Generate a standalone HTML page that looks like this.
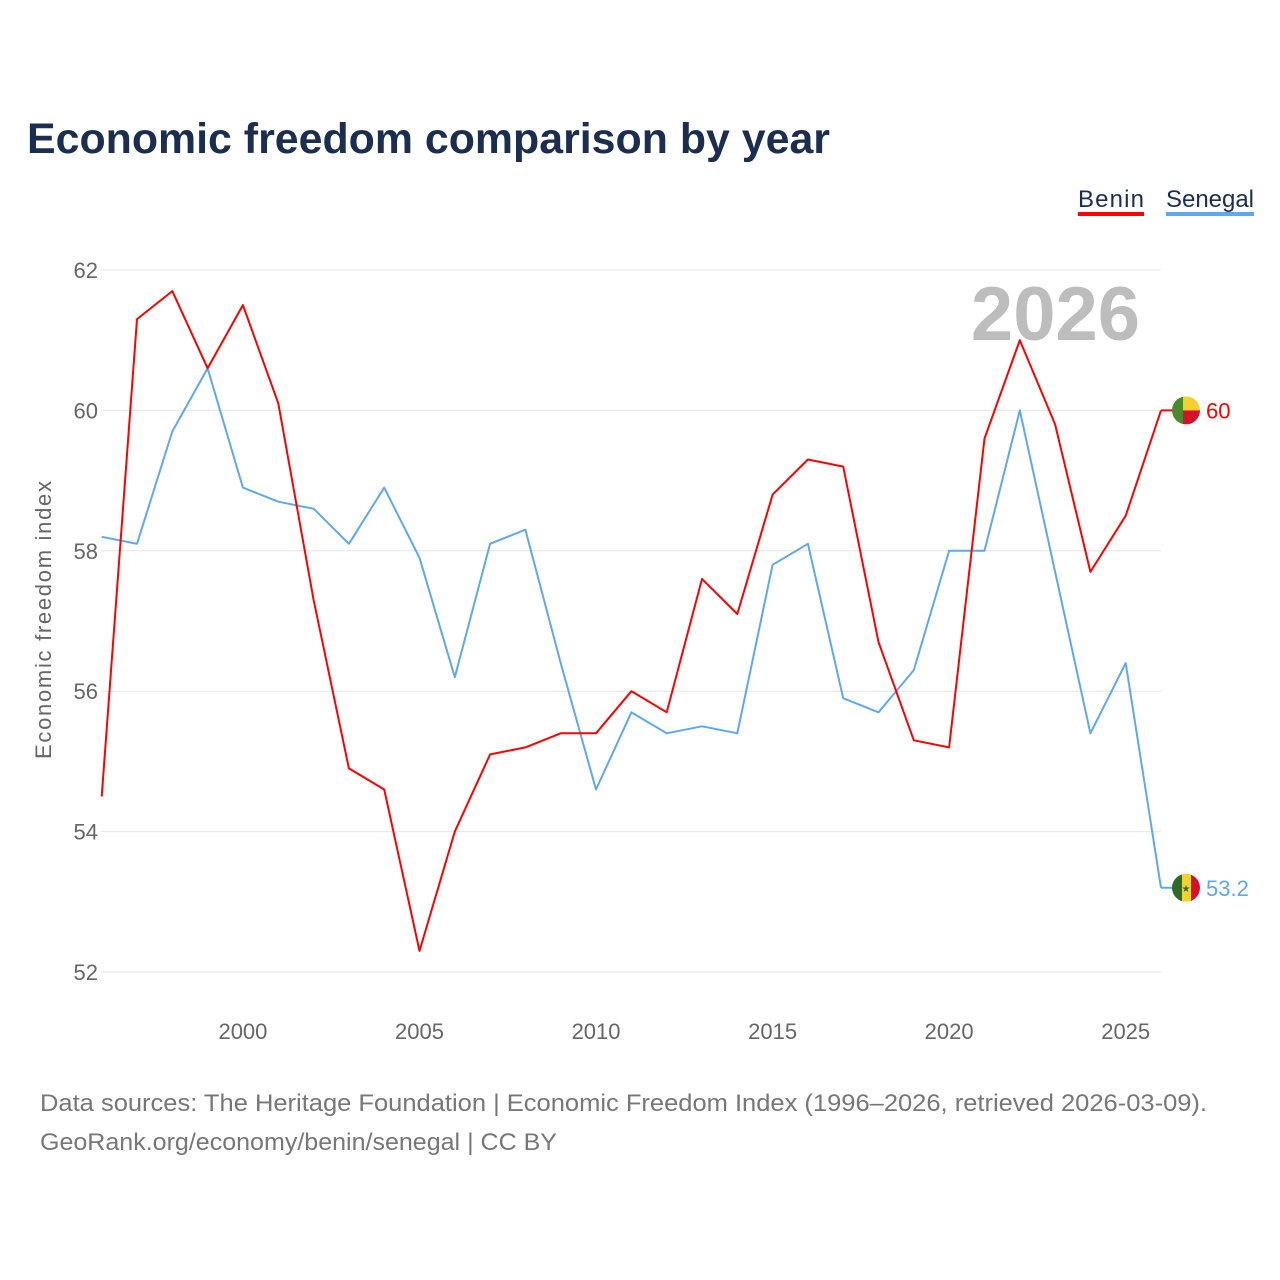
<!DOCTYPE html>
<html><head><meta charset="utf-8">
<style>
body{margin:0;background:#fff;font-family:"Liberation Sans",sans-serif;}
svg{display:block}
</style></head>
<body>
<svg id="chart" width="1280" height="1280" viewBox="0 0 1280 1280">
<defs>
<clipPath id="cb"><circle cx="0" cy="0" r="14"/></clipPath>
</defs>
<text x="27" y="153" font-size="43" font-weight="bold" fill="#1b2e4f" textLength="803" lengthAdjust="spacingAndGlyphs">Economic freedom comparison by year</text>
<g>
<text x="1078" y="207" font-size="24" fill="#1b2e4f" textLength="66">Benin</text>
<rect x="1078" y="212" width="66" height="4" fill="#ff0000"/>
<text x="1166" y="207" font-size="24" fill="#1b2e4f" textLength="88">Senegal</text>
<rect x="1166" y="212" width="88" height="4" fill="#5ea8ec"/>
</g>
<text x="1140" y="340" font-size="76" font-weight="bold" fill="#bdbdbd" text-anchor="end">2026</text>
<text transform="translate(51,620) rotate(-90)" font-size="22" fill="#666" text-anchor="middle" textLength="278">Economic freedom index</text>
<g id="grid"></g><g id="lines"></g><g id="labels"></g>
<text x="40" y="1111" font-size="24" fill="#777" textLength="1167" lengthAdjust="spacingAndGlyphs">Data sources: The Heritage Foundation | Economic Freedom Index (1996–2026, retrieved 2026-03-09).</text>
<text x="40" y="1150" font-size="24" fill="#777" textLength="517" lengthAdjust="spacingAndGlyphs">GeoRank.org/economy/benin/senegal | CC BY</text>
</svg>
<script>
const years=[1996,1997,1998,1999,2000,2001,2002,2003,2004,2005,2006,2007,2008,2009,2010,2011,2012,2013,2014,2015,2016,2017,2018,2019,2020,2021,2022,2023,2024,2025,2026];
const benin=[54.5,61.3,61.7,60.6,61.5,60.1,57.3,54.9,54.6,52.3,54.0,55.1,55.2,55.4,55.4,56.0,55.7,57.6,57.1,58.8,59.3,59.2,56.7,55.3,55.2,59.6,61.0,59.8,57.7,58.5,60.0];
const senegal=[58.2,58.1,59.7,60.6,58.9,58.7,58.6,58.1,58.9,57.9,56.2,58.1,58.3,56.4,54.6,55.7,55.4,55.5,55.4,57.8,58.1,55.9,55.7,56.3,58.0,58.0,60.0,57.7,55.4,56.4,53.2];
const yTicks=[52,54,56,58,60,62];
const xTicks=[2000,2005,2010,2015,2020,2025];
const NS="http://www.w3.org/2000/svg";
const X=v=>101.7+(v-1996)*(1161-101.7)/30;
const Y=v=>972-(v-52)*70.2;
function mk(t,a,p){const e=document.createElementNS(NS,t);for(const k in a)e.setAttribute(k,a[k]);p.appendChild(e);return e;}
const grid=document.getElementById('grid'),lines=document.getElementById('lines'),labels=document.getElementById('labels');
yTicks.forEach(t=>{
 const l=mk('line',{x1:101,x2:1161,y1:Y(t),y2:Y(t),stroke:'#e6e6e6','stroke-width':1},grid);
 
 
 const tx=mk('text',{x:98,y:Y(t)+8,'font-size':22,fill:'#666','text-anchor':'end'},grid);
 tx.textContent=t;
 
 
});
xTicks.forEach(t=>{
 const tx=mk('text',{x:X(t),y:1039,'font-size':22,fill:'#666','text-anchor':'middle'},grid);
 tx.textContent=t;
 
 
});
function flag(g,name){
 if(name==='benin'){
  mk('rect',{x:-14,y:-14,width:11,height:28,fill:'#4a8a2a'},g);
  mk('rect',{x:-3,y:-14,width:17,height:14,fill:'#f5d130'},g);
  mk('rect',{x:-3,y:0,width:17,height:14,fill:'#d8102a'},g);
 }else{
  mk('rect',{x:-14,y:-14,width:10,height:28,fill:'#2e6b2a'},g);
  mk('rect',{x:-4,y:-14,width:9,height:28,fill:'#f5d130'},g);
  mk('rect',{x:5,y:-14,width:9,height:28,fill:'#d8102a'},g);
  const s=mk('text',{x:0,y:4,'font-size':10,fill:'#2e6b2a','text-anchor':'middle'},g);s.textContent='★';
 }
}
function series(vals,color,name){
 const d=vals.map((v,i)=>(i?'L':'M')+X(years[i]).toFixed(1)+','+Y(v).toFixed(1)).join('');
 const p=mk('path',{d:d,fill:'none',stroke:color,'stroke-width':2,'stroke-linejoin':'round'},lines);
 
 
 const last=vals[vals.length-1],lx=X(years[years.length-1]),ly=Y(last);
 mk('line',{x1:lx,x2:lx+12,y1:ly,y2:ly,stroke:color,'stroke-width':2},labels);
 const g=mk('g',{transform:'translate('+(lx+25)+','+ly+')','clip-path':'url(#cb)'},labels);
 
 
 flag(g,name);
 const t=mk('text',{x:lx+45,y:ly+8,'font-size':22,fill:color},labels);
 t.textContent=last;
 
 
}
series(senegal,'#5ea8ec','senegal');
series(benin,'#ff0000','benin');
</script>
</body></html>
